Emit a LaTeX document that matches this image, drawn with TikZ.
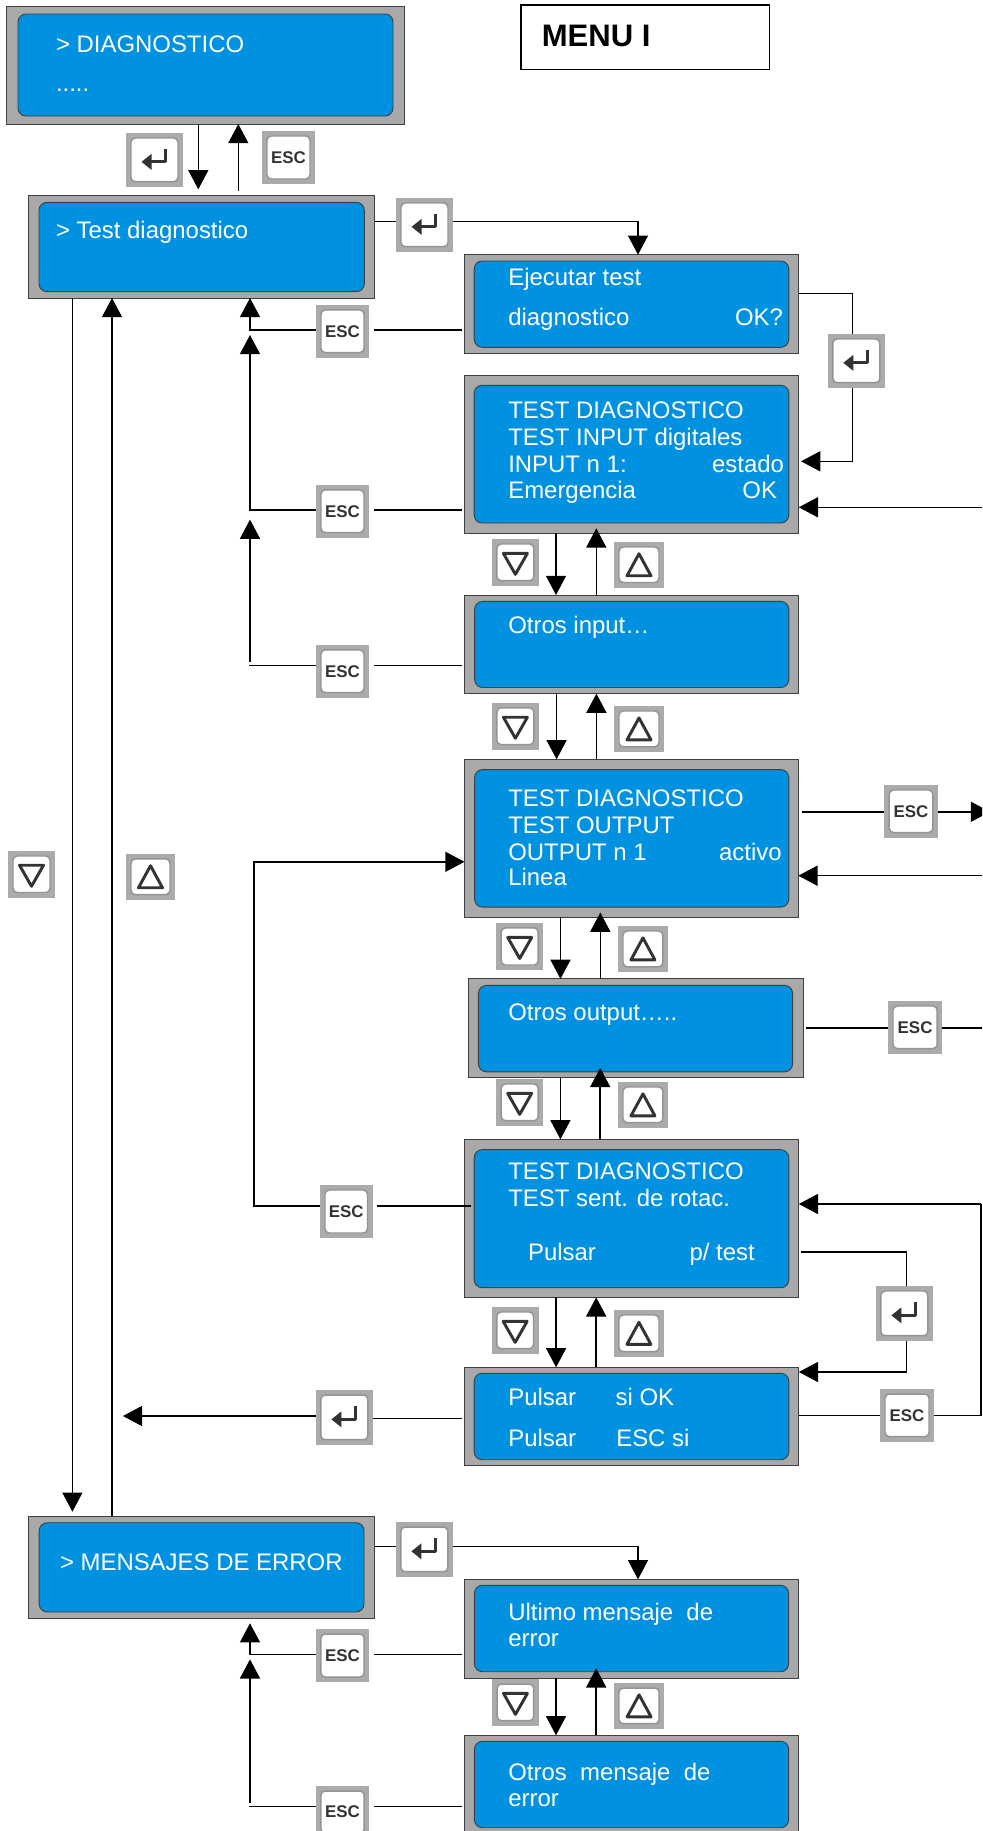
\documentclass[tikz,border=0pt]{standalone}
\usepackage{fontspec}
\setmainfont{Liberation Sans}
\usetikzlibrary{fit,arrows.meta}
\definecolor{lcdblue}{HTML}{0091E1}
\definecolor{framegray}{HTML}{A9A9A9}
\definecolor{keygray}{HTML}{ABABAB}
\definecolor{glyphdark}{HTML}{333333}
\tikzset{
  outerp/.style={draw=black!75,fill=framegray,line width=.7pt,inner sep=0pt,outer sep=0pt},
  innerp/.style={draw=black!75,fill=lcdblue,line width=.7pt,inner sep=0pt,outer sep=0pt,rounded corners=6pt},
  lbl/.style={anchor=base west,inner sep=0pt,outer sep=0pt,text=white,font=\fontsize{17.95}{20}\selectfont},
  lblr/.style={lbl,anchor=base east},
  keybg/.style={fill=keygray,inner sep=0pt,outer sep=0pt},
  keyface/.style={draw=black!42,fill=white,line width=1.1pt,rounded corners=3.2pt},
  glyph/.style={draw=glyphdark,line width=2.2pt,line join=round},
  esctxt/.style={text=glyphdark,inner sep=0pt,font=\fontsize{12.7}{14}\bfseries\selectfont},
  conn/.style={draw=black,line width=1.15pt},
  arr/.style={conn,-{Triangle[length=14.4pt,width=15pt]}},
  menubox/.style={draw=black,line width=1.2pt,fill=white,inner sep=0pt,outer sep=0pt}
}
\newcommand{\panelbox}[9]{%
  \node[fit={(#2,#3)(#4,#5)},outerp] (#1) {};
  \node[fit={(#6,#7)(#8,#9)},innerp] (#1i) {};}
\newcommand{\keybox}[5]{%
  \node[fit={(#2,#3)(#4,#5)},keybg] (#1) {};
  \draw[keyface] ([shift={(5,5)}]#1.north west) rectangle ([shift={(-5,-5)}]#1.south east);}
\newcommand{\kEnter}[5]{\keybox{#1}{#2}{#3}{#4}{#5}%
  \begin{scope}[shift={(#1.center)}]
    \draw[glyph] (11,-11) -- (11,2) -- (-4,2);
    \fill[glyphdark] (-13,2) -- (-3,-6) -- (-3,10) -- cycle;
  \end{scope}}
\newcommand{\kEsc}[5]{\keybox{#1}{#2}{#3}{#4}{#5}%
  \node[esctxt] (#1t) at (#1.center) {ESC};}
\newcommand{\kDown}[5]{\keybox{#1}{#2}{#3}{#4}{#5}%
  \begin{scope}[shift={(#1.center)}]
    \draw[glyph] (-12,-9) -- (12,-9) -- (0,12) -- cycle;
  \end{scope}}
\newcommand{\kUp}[5]{\keybox{#1}{#2}{#3}{#4}{#5}%
  \begin{scope}[shift={(#1.center)}]
    \draw[glyph] (-12,11) -- (12,11) -- (0,-11) -- cycle;
  \end{scope}}
\begin{document}
\begin{tikzpicture}[x=.75pt,y=-.75pt]
\useasboundingbox (0,0) rectangle (982,1831);
\clip (0,0) rectangle (982,1831);
% title
\node[fit={(520.7,5)(769.3,69.3)},menubox] (menu) {};
\node[anchor=base west,inner sep=0pt,font=\fontsize{23.3}{25}\bfseries\selectfont] (menut) at (541.5,46.7) {MENU I};
% panels
\panelbox{diag}{6.5}{6.5}{404}{124}{18}{14}{393}{116}
\panelbox{test}{28.3}{195.7}{374.7}{298}{39}{202.3}{364.3}{291.7}
\panelbox{ejec}{464.2}{254.7}{798.8}{353.3}{474.2}{261}{788.8}{347.3}
\panelbox{inp}{464.2}{375.7}{798.8}{533}{474.2}{385.3}{788.8}{523}
\panelbox{oinp}{464.5}{595}{798.3}{693.6}{474.6}{601.4}{788.8}{687.5}
\panelbox{out}{464.5}{759.3}{798.3}{917.1}{474.6}{769.6}{788.8}{907.1}
\panelbox{oout}{468.4}{978.9}{803.1}{1077.9}{478.4}{985.4}{792.6}{1071.8}
\panelbox{sent}{464.2}{1139.3}{798.8}{1297.3}{474.2}{1149.7}{788.8}{1287.7}
\panelbox{puls}{464.2}{1367.3}{798.8}{1465.7}{474.2}{1373.3}{788.8}{1459.7}
\panelbox{err}{28.8}{1516}{374.5}{1618.3}{39.2}{1522.7}{364}{1612}
\panelbox{ult}{464.4}{1579.3}{798.6}{1678.3}{474.4}{1585.3}{788.7}{1671.7}
\panelbox{omsg}{464.4}{1735.3}{798.6}{1834}{474.4}{1741.3}{788.7}{1827.7}
% panel texts
\node[lbl] (t1) at (56,52.4) {> DIAGNOSTICO};
\node[lbl] (t2) at (56,91.7) {.....};
\node[lbl] (t3) at (56,238.4) {> Test diagnostico};
\node[lbl] (t4) at (508.3,285) {Ejecutar test};
\node[lbl] (t5) at (508.3,325.7) {diagnostico};
\node[lblr] (t6) at (783,325.7) {OK?};
\node[lbl] (t7) at (508.3,418.3) {TEST DIAGNOSTICO};
\node[lbl] (t8) at (508.3,445.7) {TEST INPUT digitales};
\node[lbl] (t9) at (508.3,472.7) {INPUT n 1:};
\node[lblr] (t10) at (784,472.7) {estado};
\node[lbl] (t11) at (508.3,498.3) {Emergencia};
\node[lblr] (t12) at (777,498.3) {OK};
\node[lbl] (t13) at (508.3,633.2) {Otros input…};
\node[lbl] (t14) at (508.3,806.4) {TEST DIAGNOSTICO};
\node[lbl] (t15) at (508.3,833.2) {TEST OUTPUT};
\node[lbl] (t16) at (508.3,860) {OUTPUT n 1};
\node[lblr] (t17) at (781.6,860) {activo};
\node[lbl] (t18) at (508.3,885.7) {Linea};
\node[lbl] (t19) at (508.3,1020) {Otros output…..};
\node[lbl] (t20) at (508.3,1179.3) {TEST DIAGNOSTICO};
\node[lbl] (t21) at (508.3,1206) {TEST sent. de rotac.};
\node[lbl] (t22) at (528.1,1260) {Pulsar};
\node[lbl] (t23) at (689.6,1260) {p/ test};
\node[lbl] (t24) at (508.3,1405.7) {Pulsar};
\node[lbl] (t25) at (615.6,1405.7) {si OK};
\node[lbl] (t26) at (508.3,1446.7) {Pulsar};
\node[lbl] (t27) at (616.3,1446.7) {ESC si};
\node[lbl] (t28) at (60,1570.7) {> MENSAJES DE ERROR};
\node[lbl] (t29) at (508.3,1620) {Ultimo mensaje\ \ de};
\node[lbl] (t30) at (508.3,1646.7) {error};
\node[lbl] (t31) at (508.3,1780) {Otros\ \ mensaje\ \ de};
\node[lbl] (t32) at (508.3,1806.7) {error};
% keys
\kEnter{k1}{126}{133}{183}{186.7}
\kEsc{k2}{262}{131}{315}{184}
\kEnter{k3}{396}{198}{453}{251.7}
\kEsc{k4}{316}{304.9}{369}{357.6}
\kEnter{k5}{827.8}{334}{884.9}{387.7}
\kEsc{k6}{316}{484.9}{369}{537.6}
\kDown{k7}{491.9}{539}{538.9}{585.7}
\kUp{k8}{614}{542}{664}{587.5}
\kEsc{k9}{316}{644.9}{369}{697.6}
\kDown{k10}{491.9}{702.9}{538.9}{749.6}
\kUp{k11}{614}{706}{664}{751.8}
\kDown{k12}{8}{851}{55}{897.5}
\kUp{k13}{126}{853.9}{175}{899.6}
\kEsc{k14}{884.2}{785}{937.9}{837.5}
\kDown{k15}{496.2}{922.9}{543.2}{970}
\kUp{k16}{618}{926}{667.9}{971.8}
\kEsc{k17}{888}{1001}{942.2}{1053.6}
\kDown{k18}{496.2}{1079}{543.2}{1125.7}
\kUp{k19}{618}{1082}{667.9}{1127.7}
\kEsc{k20}{320}{1185}{372.5}{1238}
\kEnter{k21}{875.9}{1286}{932.9}{1340.7}
\kDown{k22}{491.8}{1307}{538.5}{1353.7}
\kUp{k23}{613.9}{1310}{664}{1356.7}
\kEsc{k24}{880}{1389}{934}{1441.7}
\kEnter{k25}{315.9}{1390}{372.9}{1444.7}
\kEnter{k26}{395.9}{1522}{452.9}{1576.7}
\kEsc{k27}{315.9}{1629}{369.2}{1682}
\kDown{k28}{492.2}{1679}{538.7}{1725.7}
\kUp{k29}{614}{1683}{664.2}{1728.7}
\kEsc{k30}{315.9}{1786}{369.2}{1838}
% free ends
\coordinate (f1) at (982,507.3);
\coordinate (f2) at (982,875.7);
\coordinate (f3) at (990,811.8);
\coordinate (f4) at (982,1027.9);
\coordinate (f5) at (122.9,1416);
\coordinate (e1) at (250,335);
\coordinate (e2) at (250,519.6);
\coordinate (e3) at (250,661.6);
\coordinate (e4) at (250,1659.3);
\coordinate (e5) at (250,1803.3);
\coordinate (r1) at (981,1204);
% connectors
\draw[arr,shorten >=4.8pt] (diag.south -| 198.3,0) -- (test.north -| 198.3,0);
\draw[arr,shorten <=3.7pt] (test.north -| 238.3,0) -- (diag.south -| 238.3,0);
\draw[conn] (test.east |- 0,221.7) -- (k3.west |- 0,221.7);
\draw[arr] (k3.east |- 0,221.7) -| (ejec.north -| 638,0);
\draw[conn,shorten <=2pt,shorten >=3.7pt] (ejec.west |- 0,329.8) -- (k4.east |- 0,329.8);
\draw[arr] (k4.west |- 0,329.8) -| (test.south -| 250,0);
\draw[conn,shorten <=2pt,shorten >=3.7pt] (inp.west |- 0,509.8) -- (k6.east |- 0,509.8);
\draw[arr] (k6.west |- 0,509.8) -| (e1);
\draw[conn,shorten <=2pt,shorten >=3.7pt] (oinp.west |- 0,665.7) -- (k9.east |- 0,665.7);
\draw[conn] (k9.west |- 0,665.7) -- (249.3,665.7);
\draw[arr] (e3) -- (e2);
\draw[conn] (ejec.east |- 0,293.3) -| (k5.north -| 852.4,0);
\draw[arr,shorten >=1.7pt] (k5.south -| 852.4,0) |- (inp.east |- 0,461.3);
\draw[arr] (f1) -- (inp.east |- f1);
\draw[arr] (inp.south -| 556,0) -- (oinp.north -| 556,0);
\draw[arr,shorten >=-3.5pt] (oinp.north -| 596.3,0) -- (inp.south -| 596.3,0);
\draw[arr] (oinp.south -| 556.6,0) -- (out.north -| 556.6,0);
\draw[arr] (out.north -| 596.4,0) -- (oinp.south -| 596.4,0);
\draw[conn,shorten <=2.7pt] (out.east |- f3) -- (k14.west |- f3);
\draw[arr] (k14.east |- f3) -- (f3);
\draw[arr] (f2) -- (out.east |- f2);
\draw[arr] (out.south -| 560.5,0) -- (oout.north -| 560.5,0);
\draw[arr,shorten >=-3.4pt] (oout.north -| 600.3,0) -- (out.south -| 600.3,0);
\draw[conn,shorten <=2pt] (oout.east |- f4) -- (k17.west |- f4);
\draw[conn] (k17.east |- f4) -- (f4);
\draw[arr] (oout.south -| 560.4,0) -- (sent.north -| 560.4,0);
\draw[arr,shorten >=-7.5pt] (sent.north -| 600.2,0) -- (oout.south -| 600.2,0);
\draw[conn,shorten <=-5pt,shorten >=3.7pt] (sent.west |- 0,1206) -- (k20.east |- 0,1206);
\draw[arr] (k20.west |- 0,1206) -- (254,1206) |- (out.west |- 0,861.8);
\draw[arr] (r1) -- (sent.east |- r1);
\draw[conn] (k24.east |- 0,1415.7) -| (r1);
\draw[conn] (puls.east |- 0,1415.7) -- (k24.west |- 0,1415.7);
\draw[conn,shorten <=2pt] (sent.east |- 0,1252) -| (k21.north -| 906.6,0);
\draw[arr] (k21.south -| 906.6,0) |- (puls.east |- 0,1372);
\draw[arr] (sent.south -| 556.1,0) -- (puls.north -| 556.1,0);
\draw[arr] (puls.north -| 596.2,0) -- (sent.south -| 596.2,0);
\draw[conn,shorten <=2pt] (puls.west |- 0,1418.3) -- (k25.east |- 0,1418.3);
\draw[arr] (k25.west |- f5) -- (f5);
\draw[arr,shorten >=3.2pt] (test.south -| 72.4,0) -- (err.north -| 72.4,0);
\draw[arr] (err.north -| 112,0) -- (test.south -| 112,0);
\draw[conn] (err.east |- 0,1546.3) -- (k26.west |- 0,1546.3);
\draw[arr] (k26.east |- 0,1546.3) -| (ult.north -| 638,0);
\draw[conn,shorten <=2pt,shorten >=3.7pt] (ult.west |- 0,1654.3) -- (k27.east |- 0,1654.3);
\draw[arr,shorten >=3.7pt] (k27.west |- 0,1654.3) -| (err.south -| 250,0);
\draw[conn,shorten <=2pt,shorten >=3.7pt] (omsg.west |- 0,1806.7) -- (k30.east |- 0,1806.7);
\draw[conn] (k30.west |- 0,1806.7) -- (249.3,1806.7);
\draw[arr] (e5) -- (e4);
\draw[arr] (ult.south -| 556,0) -- (omsg.north -| 556,0);
\draw[arr,shorten >=-7.5pt] (omsg.north -| 596.2,0) -- (ult.south -| 596.2,0);
\end{tikzpicture}
\end{document}
